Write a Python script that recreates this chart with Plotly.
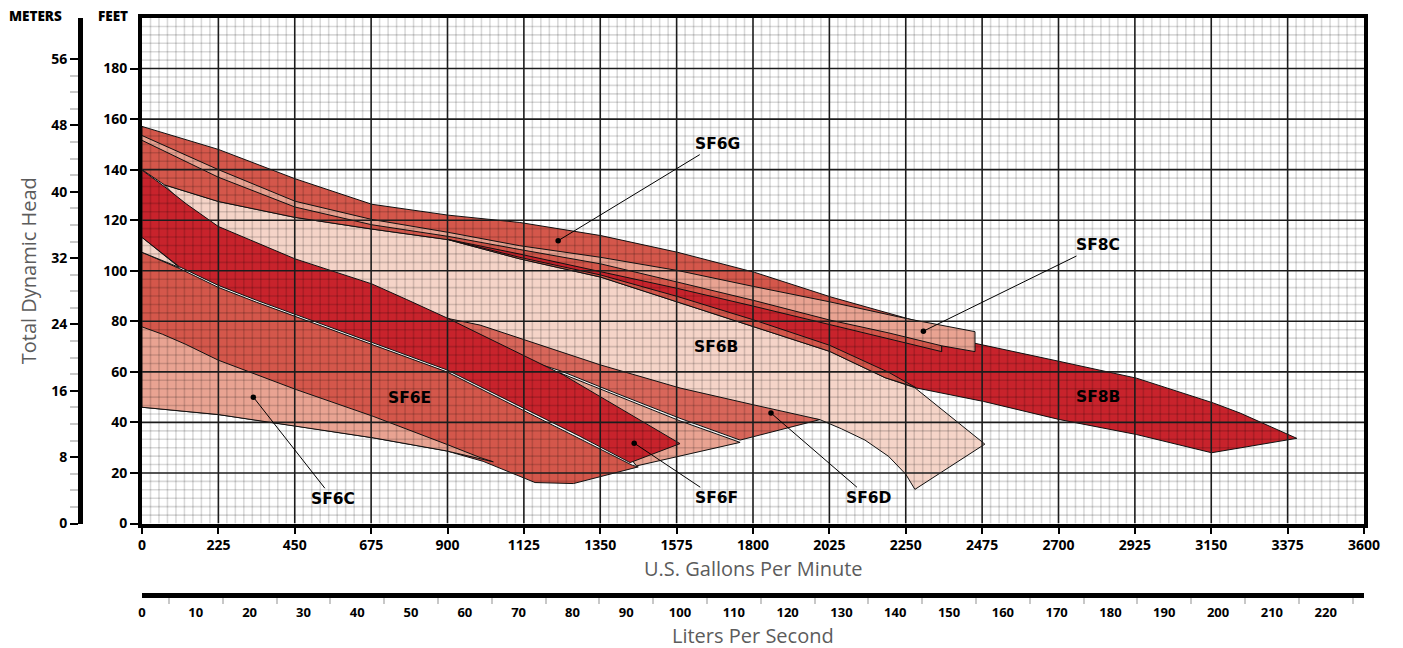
import numpy as np
import plotly.graph_objects as go

# ---------------- data (GPM, feet) ----------------
sf6b_gpm = [66, 225, 451, 677, 902, 1113, 1351, 1576, 1801, 2026, 2189, 2277, 2483, 2277, 2250, 2200, 2130, 2060, 1997, 1900, 1800, 1500, 1250, 1000, 902, 677, 451, 225]
sf6b_ft = [134, 127.4, 121.1, 116.5, 112.3, 104.7, 97.5, 87.7, 77.9, 68.1, 57.7, 53.7, 31.4, 13.5, 19.5, 26.5, 33, 37.5, 41.1, 42.5, 43, 53, 63, 72, 74, 86, 100, 112]

sf6g_gpm = [0, 225, 451, 677, 902, 1113, 1352, 1578, 1804, 2030, 2255, 2356, 2356, 2285, 2189, 2026, 1801, 1576, 1351, 1113, 902, 677, 451, 225, 66, 0]
sf6g_ft = [157.1, 148, 136.4, 126.3, 122, 119.1, 113.9, 107.3, 99.4, 89.6, 81.1, 77.5, 60, 53.6, 57.7, 68.1, 77.9, 87.7, 97.5, 104.7, 112.3, 116.5, 121.1, 127.4, 134, 140]

sf8b_gpm = [902, 1113, 1352, 1578, 1801, 2026, 2200, 2356, 2356, 2454, 2704, 2930, 3156, 3235, 3402, 3151, 2930, 2704, 2479, 2282, 2200, 2115, 2026, 1801, 1578, 1352, 1113]
sf8b_ft = [112.4, 106.6, 99.6, 93.0, 86.0, 78.8, 73.0, 68.0, 70.6, 71.3, 64.1, 57.5, 47.7, 43.7, 33.7, 28.0, 35.2, 41.1, 48.3, 53.6, 59.8, 65.0, 70.5, 80.6, 89.8, 98.3, 105.3]

sf8c_gpm = [0, 225, 451, 677, 902, 1113, 1352, 1578, 1801, 2026, 2200, 2255, 2454, 2454, 2356, 2200, 2026, 1801, 1578, 1352, 1113, 902, 677, 451, 225, 0]
sf8c_ft = [153.5, 140, 127.5, 120.3, 115.2, 109.9, 105.3, 100.1, 93.8, 87.7, 82.6, 81.0, 75.9, 68.0, 70.3, 75.4, 80.5, 88.3, 95.5, 102.7, 108.4, 113.6, 118.2, 125.2, 137, 151.6]

sf6e_gpm = [0, 110, 225, 338, 898, 1290, 1445, 1462, 1271, 1158, 1100, 1005, 898, 681, 456, 225, 0]
sf6e_ft = [107.3, 100.9, 93.4, 87.5, 60.0, 33.6, 23.0, 22.4, 15.8, 16.2, 19.5, 24.6, 28.7, 33.9, 38.5, 43.1, 46.0]

sf6c_gpm = [0, 60, 127, 225, 456, 681, 898, 996, 1035, 898, 681, 456, 225, 0]
sf6c_ft = [77.8, 74.9, 71.0, 64.6, 52.9, 42.4, 31.3, 26.1, 24.4, 28.7, 33.9, 38.5, 43.1, 46.0]

sliver_gpm = [0, 110, 0]
sliver_ft = [113.2, 101.3, 107.3]

wedge_gpm = [1231, 1388, 1585, 1762, 1457]
wedge_ft = [59.6, 51.1, 40.6, 32.1, 22.8]

sf6d_gpm = [902, 996, 1349, 1585, 1800, 1997, 1762, 1585, 1388, 1231, 1100, 1000]
sf6d_ft = [81.1, 78.5, 62.8, 53.6, 47.0, 41.1, 33.0, 41.6, 52.0, 60.5, 66, 73]

sf6f_gpm = [0, 66, 130, 225, 451, 677, 780, 902, 1241, 1585, 1438, 1290, 898, 338, 225, 110, 0]
sf6f_ft = [139.8, 133.3, 126.5, 117.5, 104.7, 94.8, 88.6, 81.1, 58.8, 31.6, 24.1, 34.5, 60.8, 88.3, 94.2, 101.6, 113.2]

label_names = ["SF6G", "SF8C", "SF6B", "SF6E", "SF8B", "SF6C", "SF6F", "SF6D"]
label_gpm = [1694, 2816, 1691, 789, 2816, 563, 1691, 2142]
label_ft = [150.1, 110.0, 70.0, 49.5, 49.9, 9.8, 10.2, 10.2]
pointer_gpm = [1226, 2302, None, None, None, 328, 1450, 1853]
pointer_ft = [111.9, 76.1, None, None, None, 50.0, 31.8, 43.7]

gpm_ticks = list(range(0, 3601, 225))
ft_ticks = list(range(0, 181, 20))
m_ticks = list(range(0, 57, 8))
lps_ticks = list(range(0, 221, 10))

GPM_PER_LPS = 15.8503
FT_PER_M = 1 / 0.3048

# ---------------- styles ----------------
DARK = "#c8232c"
MED = "#d4574b"
MED2 = "#d8665a"
SALMON = "#e9a392"
PINK = "#f5d4c8"

fig = go.Figure()


def poly(xs, ys, color, name):
    fig.add_trace(go.Scatter(
        x=list(xs) + [xs[0]], y=list(ys) + [ys[0]], mode="lines", fill="toself",
        fillcolor=color, line=dict(color="#111111", width=1), name=name,
        hoverinfo="skip", showlegend=False))


poly(sf6b_gpm, sf6b_ft, PINK, "SF6B")
poly(sf6g_gpm, sf6g_ft, MED, "SF6G")
poly(sf8b_gpm, sf8b_ft, DARK, "SF8B")
poly(sf8c_gpm, sf8c_ft, SALMON, "SF8C")
poly(sf6e_gpm, sf6e_ft, MED, "SF6E")
poly(sf6c_gpm, sf6c_ft, SALMON, "SF6C")
poly(sliver_gpm, sliver_ft, PINK, "SF6B-left")
poly(wedge_gpm, wedge_ft, SALMON, "SF6D-low")
poly(sf6d_gpm, sf6d_ft, MED2, "SF6D")
poly(sf6f_gpm, sf6f_ft, DARK, "SF6F")

# ---------------- grid drawn over the fills ----------------
minor_x = [v for v in np.arange(0, 3601, 25) if v % 225 != 0]
minor_y = [v for v in np.arange(0, 200.01, 20 / 6) if abs(v / 20 - round(v / 20)) > 1e-6]
major_x = gpm_ticks[1:-1]
major_y = ft_ticks[1:]


def grid_trace(xv, yv, color, width):
    gx, gy = [], []
    for v in xv:
        gx += [v, v, None]
        gy += [0, 200, None]
    for v in yv:
        gx += [0, 3600, None]
        gy += [v, v, None]
    fig.add_trace(go.Scatter(x=gx, y=gy, mode="lines", line=dict(color=color, width=width),
                             hoverinfo="skip", showlegend=False))


grid_trace(minor_x, minor_y, "rgba(0,0,0,0.15)", 1.6)
grid_trace(major_x, major_y, "#1c1c1c", 1.6)

# pointer dots
px = [g for g in pointer_gpm if g is not None]
py = [f for f in pointer_ft if f is not None]
fig.add_trace(go.Scatter(x=px, y=py, mode="markers", marker=dict(color="black", size=5.5),
                         hoverinfo="skip", showlegend=False))

# invisible trace to carry the secondary axes
fig.add_trace(go.Scatter(x=[0], y=[0], xaxis="x2", yaxis="y2", mode="markers",
                         marker=dict(opacity=0), hoverinfo="skip", showlegend=False))

# ---------------- annotations ----------------
ann = []
lab_font = dict(family="DejaVu Sans", size=15.5, color="black", weight="bold")
for name, gx, gy, qx, qy in zip(label_names, label_gpm, label_ft, pointer_gpm, pointer_ft):
    if qx is None:
        ann.append(dict(x=gx, y=gy, xref="x", yref="y", text=name, showarrow=False, font=lab_font))
    else:
        ann.append(dict(x=qx, y=qy, xref="x", yref="y", ax=gx, ay=gy, axref="x", ayref="y",
                        text=name, showarrow=True, arrowhead=0, arrowwidth=1, arrowcolor="black",
                        font=lab_font))

title_font = dict(family="Open Sans", size=20, color="#5c5c5c")
ann.append(dict(x=1800, xref="x", y=0.0465, yref="paper", text="U.S. Gallons Per Minute",
                showarrow=False, font=title_font, yanchor="middle"))
ann.append(dict(x=1800, xref="x", y=-0.0705, yref="paper", text="Liters Per Second",
                showarrow=False, font=title_font, yanchor="middle"))
ann.append(dict(x=-0.0405, xref="paper", y=0.5628, yref="paper", text="Total Dynamic Head",
                textangle=-90, showarrow=False, font=title_font, xanchor="center", yanchor="middle"))
head_font = dict(family="Open Sans", size=13.5, color="black", weight=800)
ann.append(dict(x=-0.0343, xref="paper", y=1.0034, yref="paper", text="METERS", showarrow=False,
                font=head_font, xanchor="center", yanchor="middle"))
ann.append(dict(x=0.0257, xref="paper", y=1.0034, yref="paper", text="FEET", showarrow=False,
                font=head_font, xanchor="center", yanchor="middle"))

tick_font = dict(family="Open Sans", size=14, color="black", weight="bold")
lps_font = dict(family="Open Sans", size=13, color="black", weight="bold")

# the page body adds an 8 px offset, so the figure is 8 px smaller and margins shifted
fig.update_layout(
    width=1395, height=640,
    margin=dict(l=72, r=39, t=6, b=53),
    paper_bgcolor="white", plot_bgcolor="white",
    showlegend=False,
    annotations=ann,
    xaxis=dict(domain=[62 / 1284, 1], range=[0, 3600], tickvals=gpm_ticks, ticks="outside",
               ticklen=6, tickwidth=2, tickcolor="black", showline=True, linewidth=4,
               linecolor="black", mirror=True, showgrid=False, zeroline=False,
               tickfont=tick_font, anchor="y"),
    yaxis=dict(domain=[0.1239, 1], range=[0, 200], tickvals=ft_ticks, ticks="outside",
               ticklen=8, tickwidth=2, tickcolor="black", showline=True, linewidth=4,
               linecolor="black", mirror=True, showgrid=False, zeroline=False,
               tickfont=tick_font, anchor="x"),
    yaxis2=dict(overlaying="y", anchor="free", position=0, side="left",
                range=[0, 200 / FT_PER_M], tickvals=m_ticks, ticks="outside", ticklen=8,
                tickwidth=2, tickcolor="black", showline=True, linewidth=5, linecolor="black",
                showgrid=False, zeroline=False, tickfont=tick_font,
                minor=dict(tickvals=[v for v in range(2, 56, 2) if v % 8 != 0], ticks="outside",
                           ticklen=8, tickwidth=1.5, tickcolor="#c8c8c8")),
    xaxis2=dict(overlaying="x", anchor="free", position=0, side="bottom",
                range=[0, 3600 / GPM_PER_LPS], tickvals=lps_ticks, ticks="outside",
                ticklen=3, tickwidth=1.5, tickcolor="rgba(0,0,0,0)", showline=True, linewidth=5,
                linecolor="black", showgrid=False, zeroline=False, tickfont=lps_font,
                minor=dict(tickvals=list(range(5, 226, 10)), ticks="outside", ticklen=6,
                           tickwidth=1.5, tickcolor="#c8c8c8")),
)

fig.write_html("out.html")
